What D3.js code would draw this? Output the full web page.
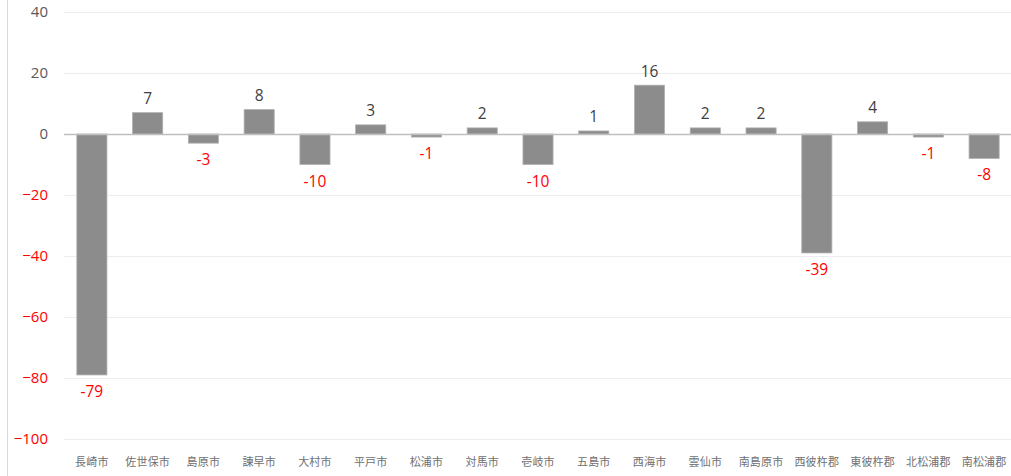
<!DOCTYPE html>
<html><head><meta charset="utf-8">
<script src="https://cdn.jsdelivr.net/npm/d3@7"></script>
<style>body{margin:0;background:#fff;}svg{display:block;}</style>
</head><body>
<svg id="c" width="1011" height="476"></svg>
<script>
const categories = ["長崎市","佐世保市","島原市","諫早市","大村市","平戸市","松浦市","対馬市","壱岐市","五島市","西海市","雲仙市","南島原市","西彼杵郡","東彼杵郡","北松浦郡","南松浦郡"];
const values = [-79,7,-3,8,-10,3,-1,2,-10,1,16,2,2,-39,4,-1,-8];
const yTicks = [40,20,0,-20,-40,-60,-80,-100];

const svg = d3.select("#c");
const W = 1011, H = 476;
const numFont = "'Open Sans', 'Noto Sans', sans-serif";
const x = d3.scaleBand().domain(categories).range([64, 1012]).paddingInner(0.46).paddingOuter(0.23);
const y = d3.scaleLinear().domain([-100, 40]).range([439, 12]);

svg.append("line").attr("x1",7.5).attr("x2",7.5).attr("y1",0).attr("y2",H).attr("stroke","#d9d9d9");

// grid
svg.append("g").selectAll("line").data(yTicks.filter(d=>d!==0)).join("line")
  .attr("x1",64).attr("x2",1011).attr("y1",d=>Math.round(y(d))+0.5).attr("y2",d=>Math.round(y(d))+0.5)
  .attr("stroke","#ececec");

// y axis labels
const ya = svg.append("g").attr("transform","translate(48,0)")
  .call(d3.axisLeft(y).tickValues(yTicks).tickSize(0).tickPadding(0).tickFormat(d3.format("d")));
ya.select(".domain").remove();
ya.selectAll("text").attr("font-family",numFont)
  .attr("font-size",15).attr("fill",d=>d<0?"#ff0000":"#595959");

// bars
svg.append("g").selectAll("rect").data(values).join("rect")
  .attr("x",(d,i)=>x(categories[i]))
  .attr("width",x.bandwidth())
  .attr("y",d=>y(Math.max(0,d)))
  .attr("height",d=>Math.abs(y(d)-y(0)))
  .attr("fill","#8c8c8c").attr("stroke","#b0b0b0").attr("stroke-width",0.8);

// zero line
svg.append("line").attr("x1",64).attr("x2",1011).attr("y1",Math.round(y(0))+0.5).attr("y2",Math.round(y(0))+0.5)
  .attr("stroke","#bfbfbf").attr("stroke-width",1.3);

// value labels
svg.append("g").selectAll("text").data(values).join("text")
  .attr("x",(d,i)=>x(categories[i])+x.bandwidth()/2)
  .attr("y",d=>d>=0? y(d)-8.5 : y(d)+22)
  .attr("text-anchor","middle")
  .attr("font-family",numFont).attr("font-size",15.5)
  .attr("fill",d=>d<0?"#ff0000":"#404040")
  .text(d=>d);

// category labels
const xa = svg.append("g").attr("transform","translate(0,466)")
  .call(d3.axisBottom(x).tickSize(0).tickPadding(0));
xa.select(".domain").remove();
xa.selectAll("text").attr("font-family","'Noto Sans CJK JP', sans-serif").attr("font-size",11)
  .attr("fill","#707070").attr("dy","0").attr("letter-spacing","0.2px");
</script>
</body></html>
